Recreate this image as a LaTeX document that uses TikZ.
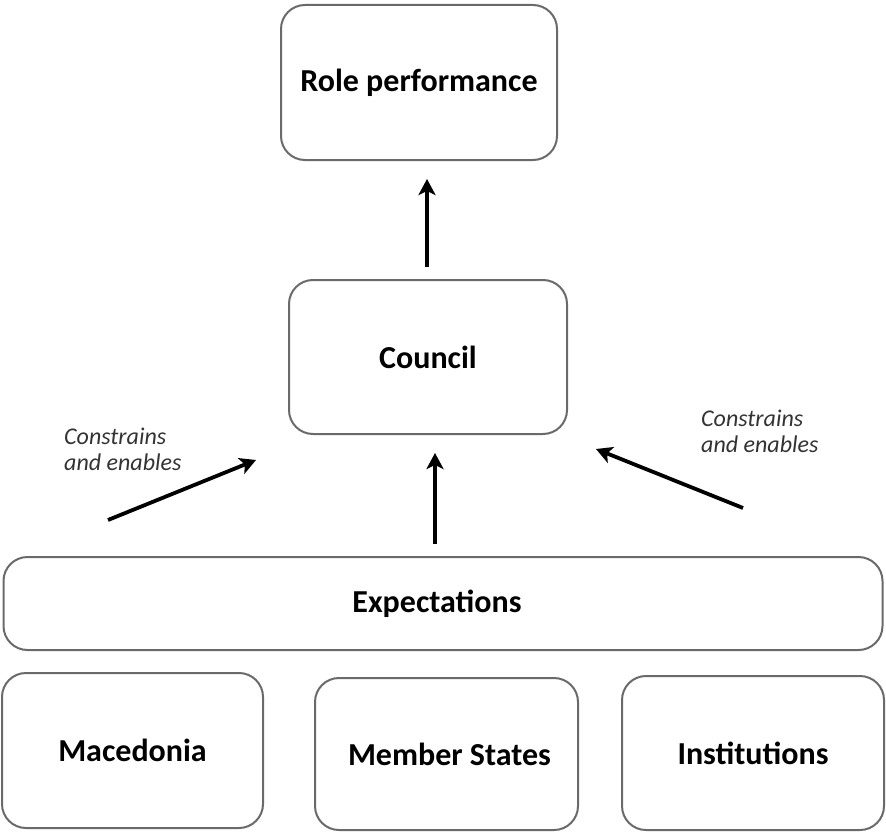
\documentclass[tikz,border=0pt]{standalone}
\usepackage{fontspec}
\setmainfont{Carlito}
\usetikzlibrary{arrows.meta}
\definecolor{boxline}{HTML}{6A6A6A}
\definecolor{labeltext}{HTML}{333333}
\tikzset{
  box/.style={draw=boxline, line width=2pt, rounded corners=24pt, fill=white,
    font=\fontsize{32}{38}\selectfont\bfseries, text=black, inner sep=0pt},
  arr/.style={line width=3.8pt, -{Stealth[length=16pt,width=17pt,inset=4pt]}},
  lab/.style={font=\fontsize{24}{26}\selectfont\itshape, text=labeltext, align=left, anchor=west, inner sep=0pt}
}
\begin{document}
\begin{tikzpicture}[x=1pt,y=-1pt]
\useasboundingbox (0,0) rectangle (886,832);
\node[box, minimum width=276pt, minimum height=155pt] (role) at (419,82.5) {Role performance};
\node[box, minimum width=278pt, minimum height=154pt] (council) at (428,357) {Council};
\node[box, minimum width=879pt, minimum height=93pt] (exp) at (443,603.5) {\hspace*{-12pt}Expectations};
\node[box, minimum width=261pt, minimum height=155pt] (mac) at (132.5,750.5) {Macedonia};
\node[box, minimum width=263pt, minimum height=152pt] (ms) at (446.5,754) {\hspace*{6pt}Member States};
\node[box, minimum width=262pt, minimum height=154pt] (inst) at (753,753) {Institutions};

\draw[arr, shorten <=12pt, shorten >=18pt] ([xshift=-1pt]council.north) -- ([xshift=-1pt]council.north |- role.south);
\draw[arr, shorten <=12pt, shorten >=18pt] ([xshift=7pt]exp.north -| council.south) -- ([xshift=7pt]council.south);

\coordinate (ls) at (108,520);
\coordinate (le) at (256,460);
\coordinate (rs) at (743,508);
\coordinate (re) at (596,449);
\draw[arr] (ls) -- (le);
\draw[arr] (rs) -- (re);

\node[lab] (ll) at (64,449) {Constrains\\and enables};
\node[lab] (rl) at (701,431) {Constrains\\and enables};
\end{tikzpicture}
\end{document}
